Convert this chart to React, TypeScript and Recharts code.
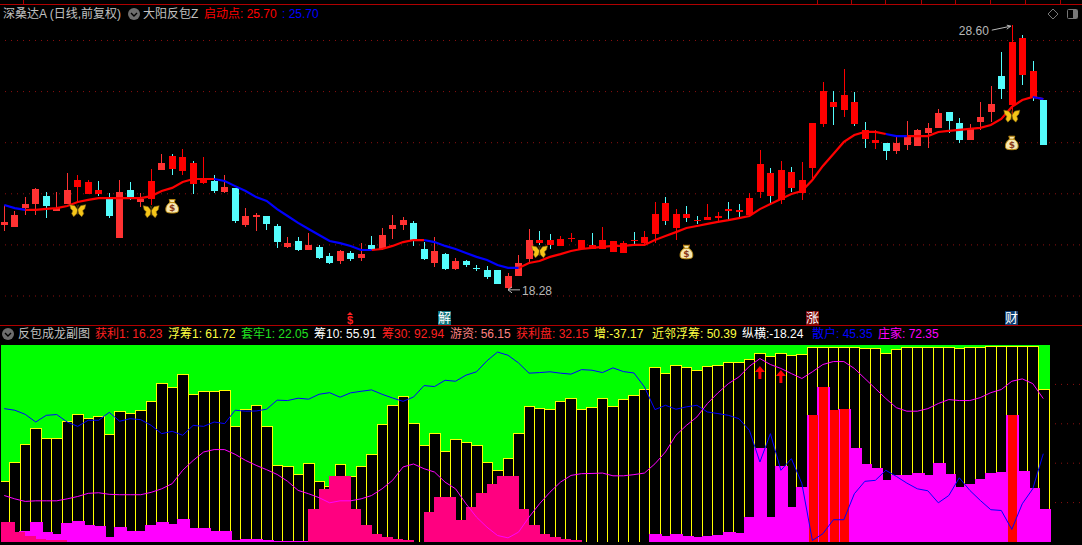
import { ComposedChart, Bar, Line, XAxis, YAxis, CartesianGrid, ReferenceDot } from "recharts";

// daily candles
const opens = [20.78,20.70,21.44,21.60,21.91,21.33,21.60,22.27,21.99,21.99,21.83,20.27,22.15,21.68,21.80,22.93,22.97,22.89,22.38,22.42,22.50,22.07,22.23,20.78,21.09,21.13,20.74,19.92,20.15,19.80,19.92,19.57,19.37,19.68,19.49,20.00,19.84,20.62,20.78,20.86,19.84,19.29,19.64,19.06,19.37,19.11,19.02,19.02,18.31,18.78,19.45,20.07,20.00,19.96,20.24,19.84,19.84,19.84,19.72,19.68,20.15,20.07,20.43,20.94,20.66,21.05,20.94,20.97,21.05,21.33,21.29,21.17,22.07,21.91,21.76,22.23,22.03,23.01,24.73,25.40,25.28,24.73,24.14,23.99,23.99,23.68,23.91,23.87,24.38,24.58,25.20,24.77,24.11,24.81,25.20,26.61,25.48,26.65,25.79,25.67];
const closes = [20.90,21.17,21.60,22.19,21.52,21.44,22.15,22.54,22.46,22.15,21.13,22.07,21.87,21.80,22.50,23.20,23.48,23.44,23.20,22.54,22.11,22.27,20.94,21.13,21.17,20.82,20.11,20.07,19.80,20.00,19.49,19.29,19.76,19.45,19.64,19.80,20.39,20.78,20.97,20.19,19.45,19.76,19.06,19.37,19.21,19.08,18.74,18.47,18.78,19.29,20.19,20.19,20.19,20.23,20.28,20.19,20.00,20.19,20.15,20.07,20.19,20.31,21.21,21.64,21.21,21.21,20.97,21.09,21.13,21.40,21.37,21.83,23.17,22.81,22.93,22.85,22.54,24.77,26.03,25.59,25.87,25.59,24.50,24.11,23.68,23.99,24.22,24.50,24.58,25.16,24.85,24.11,24.58,25.01,25.51,26.10,27.94,28.10,26.80,23.91];
const highs = [21.56,21.33,21.87,22.21,22.07,22.07,22.81,22.74,22.54,22.50,22.03,22.54,22.46,22.03,22.97,23.56,23.56,23.75,23.28,23.44,22.74,22.74,22.23,21.44,21.25,21.13,20.82,20.31,20.31,20.47,20.00,19.68,19.80,19.76,20.07,20.35,20.66,21.17,21.09,20.94,20.11,20.31,19.68,19.49,19.41,19.21,19.17,19.02,18.90,19.60,20.62,20.54,20.43,20.35,20.47,20.19,20.47,20.70,20.15,20.15,20.50,20.54,21.68,21.87,21.40,21.52,21.13,21.60,21.29,21.68,21.60,22.03,23.71,23.01,23.28,23.05,23.24,24.77,26.38,26.03,26.88,25.98,24.81,24.50,23.99,24.22,24.85,24.54,24.77,25.32,25.20,24.97,24.73,25.59,26.22,27.55,28.60,28.21,27.20,25.67];
const lows = [20.54,20.70,21.17,21.17,21.05,21.33,21.60,21.72,21.99,21.91,21.05,20.27,21.76,21.48,21.56,22.93,22.74,22.74,21.99,22.38,22.03,22.03,20.86,20.70,20.54,20.58,19.88,19.88,19.76,19.80,19.45,19.25,19.25,19.37,19.37,19.80,19.80,20.23,20.58,19.96,19.41,19.13,19.02,19.02,19.13,18.98,18.67,18.47,18.28,18.78,19.25,20.00,19.84,19.96,20.11,19.84,19.84,19.84,19.72,19.68,20.00,20.00,20.07,20.78,20.19,20.90,20.82,20.97,20.90,20.97,21.09,21.09,21.83,21.56,21.60,22.07,21.76,22.62,24.61,24.69,25.00,24.65,23.79,23.75,23.32,23.56,23.71,23.87,23.79,24.58,24.38,23.99,24.11,24.50,24.81,25.71,25.08,26.26,25.63,23.91];
const movingAvg = [21.56,21.44,21.37,21.37,21.41,21.44,21.52,21.68,21.76,21.83,21.83,21.83,21.83,21.83,21.91,22.11,22.23,22.46,22.58,22.58,22.58,22.50,22.30,22.11,21.87,21.72,21.40,21.13,20.86,20.62,20.39,20.15,20.07,19.96,19.80,19.80,19.84,19.96,20.11,20.19,20.19,20.11,19.96,19.84,19.68,19.53,19.41,19.21,19.10,19.10,19.29,19.37,19.53,19.64,19.76,19.84,19.88,19.92,19.96,19.96,20.00,20.00,20.19,20.35,20.50,20.66,20.74,20.82,20.90,20.97,21.05,21.13,21.40,21.60,21.80,21.99,22.11,22.54,23.09,23.56,24.03,24.30,24.42,24.42,24.34,24.26,24.26,24.26,24.26,24.42,24.46,24.50,24.54,24.58,24.69,24.93,25.40,25.67,25.79,25.71];
const fallingRuns = [[0,2],[20,35],[40,49],[84,86],[98,99]];
const cyanWickDays = [9,16,18,51,52,56,60,63,65,66,69,70,73,75,79,81,82,97,98];
const softRedDays = [0,1,2,3,5,6,11,13,15,21,23,24,27,29,32,34,36,37,38,41,43,48,49,50,85,86,87,88,89,92,93,94];
const butterflies = [[7,21.34],[14,21.30],[51,19.73],[96,25.04]];
const moneyBags = [[16,21.50],[65,19.71],[96,23.98]];

// lower panel, 0-100
const chipBars = [31.1,40.6,49.7,58.1,53,53,61.6,65,63.1,64,55,66.7,65.7,67.2,71.8,80.9,78.9,85.5,75.3,76.9,76.4,77.4,59.1,67.7,69.7,59.1,39.2,38.7,34.7,40.3,31.1,28.6,39.7,33.3,38.7,44.8,59.9,69.7,74.2,60.6,49.4,55.5,46.4,52.5,50.9,49.4,40.8,36.7,42.8,55.5,69.1,68.2,67.7,71.8,73.3,67.7,68.7,73.3,69.2,72.8,74.8,77.9,88.6,86,89.6,88.6,87.5,89.1,89.6,91.6,91.6,93.1,95.7,94.2,95.7,94.7,95.2,99.2,99.2,99.2,99.2,99.2,98.7,98.7,95.7,98.2,99.2,99.2,99.2,99.2,99.2,98.7,99.2,99.2,99.7,99.7,99.7,99.7,99.7,77.9];
const profitBars = [0,0,5.8,10.4,5.3,4.3,9.4,10.9,8.4,7.9,2.3,7.4,5.8,5.8,8.4,10.4,8.9,11.9,6.9,6.9,5.8,5.8,0.8,1.3,1.3,0.8,0.3,0.3,0.3,0.3,0,0,0,0,0,0,0,0,0,0,0,0,0,0,0,0,0,0,0,0,0,0,0,0,0,0,0,0,0,0,0,0,4.3,2.8,4.3,2.8,2.3,2.8,3.3,5.3,4.8,12.5,47.5,12.5,38.4,18,27.7,64.3,78.6,66.9,67.4,47.5,39.4,37.4,31.3,33.8,33.8,34.8,33.8,39.9,34.3,27.7,29.2,31.8,34.8,35.3,64.3,35.8,27.2,16.5];
const lockedBars = [10.4,10.4,5.3,2.8,1.3,0.8,0.8,0.25,0.25,0.25,0.25,0.25,0.25,0.25,0.25,0.25,0.25,0.25,0.25,0.25,0.25,0.25,0.25,0.25,0.25,0.25,0.25,0.25,0.25,0.25,17,26.7,33.3,33.3,16.5,8.4,4.3,2.3,1.3,0.8,0.25,15,22.6,22.6,11.4,18,24.7,29.2,33.3,33.3,16.5,8.4,4.3,2.3,1.3,0.8,0.25,0.25,0.25,0.25,0.25,0.25,0.25,0.25,0.25,0.25,0.25,0.25,0.25,0.25,0.25,0.25,0.25,0.25,0.25,0.25,0.25,0.25,0.25,0.25,0.25,0.25,0.25,0.25,0.25,0.25,0.25,0.25,0.25,0.25,0.25,0.25,0.25,0.25,0.25,0.25,0.25,0.25,0.25,0.25,0.25];
const hotBars: Record<number, number> = { 77: 64.3, 78: 78.6, 79: 66.9, 80: 67.4, 96: 64.3 };
const retailLine = [67.7,66.9,64.8,60.9,64.3,64.7,60.9,58.7,61.8,61.8,65.8,61.3,62.6,62.1,59.2,55,56.2,54.2,59.2,58.7,60.9,60.1,66.9,66.4,66.5,67.4,72,71.8,73,72.5,75,75.8,73.5,75.7,76.5,77.2,75,73.1,71.4,73.6,79.4,78.9,82.1,81.6,84.7,86.4,92,96.4,94.8,90.9,85.7,86,86.4,85.7,85.2,87.5,87.2,86,88.4,86.5,85.8,78.7,67.2,69.4,67.4,68.6,69.4,66,65.2,64.3,62.6,56.7,40.6,55,36.4,42.3,29.6,0.8,4.2,11.3,11.3,24.5,30.8,31.3,36.4,33.3,29.9,27,26,19.9,23.6,32.6,26.2,21.1,16.4,16,6.4,19.4,27,44.8];
const dealerLine = [23.6,21.9,20.6,20.9,20.9,20.9,21.9,23.1,24.7,25,24.2,24,24,24,25.2,27,29.6,36.4,41.4,45.7,46.9,46.9,44.5,41.4,38.9,36.7,34.3,30.8,26.2,24.5,22.5,19.9,20.9,20.9,21.9,23.6,27,31.3,38.1,39.6,37.2,35.5,30.4,27,19.4,12.6,7.5,3.3,2.1,5,12.6,19.4,25.3,30.4,33.8,34.7,34.8,35,33.6,33.6,34.2,35,39.7,45.7,54.2,59.2,63.5,70.3,75.7,80.4,83.8,89.2,93.1,90.1,88.1,85.5,83,86.4,90.1,91.6,91.6,88.1,83,77.9,72.8,68.2,66.4,66.4,67.7,70.3,72.3,71.8,71.8,73.3,75.8,77.4,81.6,82.8,80.4,72.8];
const signalArrows = [[72,85.8],[74,83.8]];

const subNames = ["获利1:","浮筹1:","套牢1:","筹10:","筹30:","游资:","获利盘:","增:","近邻浮筹:","纵横:","散户:","庄家:"];
const subValues = ["16.23","61.72","22.05","55.91","92.94","56.15","32.15","-37.17","50.39","-18.24","45.35","72.35"];
const subColors = ["#ff2020","#ffff40","#20e020","#ffffff","#ff2020","#ff8080","#ff2020","#ffff40","#ffff40","#ffffff","#0000ff","#ff00ff"];
const subLefts = [95,168,241,314,382,450,516,594,652,742,812,878];

const SLOTS = 103;
const inFalling = (i: number) => fallingRuns.some(([a, b]) => i >= a && i <= b);
const isRising = (i: number) => i > 0 && fallingRuns.every(([a, b]) => i <= a || i >= b);

const priceRows = Array.from({ length: SLOTS }, (_, i) =>
  i < opens.length
    ? {
        slot: i,
        open: opens[i],
        close: closes[i],
        high: highs[i],
        low: lows[i],
        range: [lows[i], highs[i]],
        maUp: isRising(i) ? movingAvg[i] : null,
        maDown: inFalling(i) ? movingAvg[i] : null,
      }
    : { slot: i }
);

const chipRows = Array.from({ length: SLOTS }, (_, i) => ({
  slot: i,
  floor: i < chipBars.length ? 100 : null,
  chip: i < chipBars.length ? chipBars[i] : null,
  profit: i < profitBars.length ? profitBars[i] : null,
  locked: i < lockedBars.length ? lockedBars[i] : null,
  hot: hotBars[i] ?? null,
  retail: i < retailLine.length ? retailLine[i] : null,
  dealer: i < dealerLine.length ? dealerLine[i] : null,
}));

function Candle(props: any) {
  const { x, y, width, height, payload, index } = props;
  if (payload.high === undefined) return null;
  const perUnit = Math.abs(height) / (payload.high - payload.low || 1);
  const yOf = (price: number) => Math.min(y, y + height) + (payload.high - price) * perUnit;
  const falling = payload.close < payload.open;
  const cx = Math.round(x + width / 2);
  const bodyTop = Math.round(yOf(Math.max(payload.open, payload.close)));
  const bodyBottom = Math.round(yOf(Math.min(payload.open, payload.close)));
  const wickColor = falling || cyanWickDays.includes(index) ? "#54fcfc" : softRedDays.includes(index) ? "#ff3232" : "#ff0000";
  const bodyColor = falling ? "#54fcfc" : softRedDays.includes(index) ? "#ff3232" : "#ff0000";
  return (
    <g shapeRendering="crispEdges">
      <rect x={cx} y={Math.round(yOf(payload.high))} width={1} height={Math.round(yOf(payload.low)) - Math.round(yOf(payload.high))} fill={wickColor} />
      <rect x={cx - 3} y={bodyTop} width={7} height={Math.max(bodyBottom - bodyTop, 1)} fill={bodyColor} />
    </g>
  );
}

// plain filled stick; width can exceed the slot so neighbours overlap like in the software
const stick = (w: number, fill: string, dx = 0) => (props: any) => {
  if (!props.height) return null;
  const left = Math.round(props.x + props.width / 2 + dx - w / 2);
  const top = Math.round(props.y);
  const bottom = Math.round(props.y + props.height);
  return <rect x={left} y={top} width={w} height={Math.max(bottom - top, 1)} fill={fill} shapeRendering="crispEdges" />;
};

function ChipStick(props: any) {
  if (!props.height) return null;
  const cx = props.x + props.width / 2;
  const left = Math.round(cx - 5.25) + 0.5;
  // last stick is a little wider in the original
  const right = Math.round(cx + 10.495 - 5.25) + 0.5 + (props.index === 99 ? 1 : 0);
  const top = Math.round(props.y) + 0.5;
  const bottom = Math.round(props.y + props.height);
  return <path d={`M${left},${bottom}V${top}H${right}V${bottom}`} fill="#000" stroke="#ffff00" strokeWidth={1} shapeRendering="crispEdges" />;
}

function Butterfly({ cx, cy }: any) {
  return (
    <g transform={`translate(${cx},${cy})`}>
      <path d="M0,-1 L-3,-5 L-8,-6 L-7,-2 L-5,0 L-6,3 L-4,6 L-1,3 Z" fill="#f5c518" stroke="#8a6a10" strokeWidth={0.6} />
      <path d="M0,-1 L3,-5 L8,-6 L7,-2 L5,0 L6,3 L4,6 L1,3 Z" fill="#f5c518" stroke="#8a6a10" strokeWidth={0.6} />
      <path d="M0,-3 V4 M-1,-6 L0,-3 M1,-6 L0,-3" stroke="#5a4408" strokeWidth={0.8} fill="none" />
    </g>
  );
}

function MoneyBag({ cx, cy }: any) {
  return (
    <g transform={`translate(${cx},${cy})`}>
      <path d="M-3,-7 L3,-7 L2,-4 C6,-2 7,2 6,5 C5,7 -5,7 -6,5 C-7,2 -6,-2 -2,-4 Z" fill="#f7e7b0" stroke="#b8860b" strokeWidth={1} />
      <path d="M-3,-4 H3" stroke="#b8860b" strokeWidth={1} />
      <text x={0} y={4.5} textAnchor="middle" fontSize={9} fontWeight="bold" fontFamily="DejaVu Sans" fill="#8b3a1a">$</text>
    </g>
  );
}

function UpArrow({ cx, cy }: any) {
  return <path transform={`translate(${cx},${cy})`} d="M0,-7 L5,-1 L1.5,-1 L1.5,6 L-1.5,6 L-1.5,-1 L-5,-1 Z" fill="#ff0000" />;
}

function HighNote({ cx, cy }: any) {
  return (
    <g>
      <text x={cx - 53} y={cy + 10} fontSize={12} fontFamily="Liberation Sans" fill="#b8b8b8">28.60</text>
      <path d={`M${cx - 20},${cy + 5} L${cx - 1},${cy + 1} M${cx - 5},${cy} L${cx - 1},${cy + 1} L${cx - 5},${cy + 4}`} stroke="#b8b8b8" fill="none" />
    </g>
  );
}

function LowNote({ cx, cy }: any) {
  return (
    <g>
      <path d={`M${cx},${cy + 1} H${cx + 12} M${cx + 4},${cy - 2} L${cx},${cy + 1} L${cx + 4},${cy + 4}`} stroke="#b8b8b8" fill="none" />
      <text x={cx + 14} y={cy + 6} fontSize={12} fontFamily="Liberation Sans" fill="#b8b8b8">18.28</text>
    </g>
  );
}

function Caret({ left, top }: { left: number; top: number }) {
  return (
    <svg style={{ position: "absolute", left, top }} width={12} height={12}>
      <circle cx={6} cy={6} r={6} fill="#6e6e6e" />
      <path d="M3,5 L6,8 L9,5" stroke="#000" strokeWidth={1.4} fill="none" />
    </svg>
  );
}

function Label({ left, top, color, children, bg, size = 12, bold }: any) {
  return (
    <span
      style={{
        position: "absolute",
        left,
        top,
        color,
        background: bg,
        fontSize: size,
        fontWeight: bold ? 700 : 400,
        lineHeight: "14px",
        whiteSpace: "pre",
        fontFamily: "'Liberation Sans','Noto Sans CJK SC',sans-serif",
      }}
    >
      {children}
    </span>
  );
}

export default function App() {
  const layers = ["floor", "chip", "profit", "locked", "hot"];
  return (
    <div style={{ position: "absolute", left: 0, top: 0, width: 1082, height: 545, background: "#000", overflow: "hidden" }}>
      <div style={{ position: "absolute", left: -1, top: 0 }}>
        <ComposedChart width={1081} height={325} data={priceRows} margin={{ top: 0, right: 0, bottom: 0, left: 0 }}>
          <CartesianGrid vertical={false} horizontalValues={[18, 20, 22, 24, 26, 28]} stroke="#8c1010" strokeDasharray="1 5" />
          <XAxis dataKey="slot" hide />
          <YAxis hide domain={[16.865, 29.585]} ticks={[18, 20, 22, 24, 26, 28]} allowDataOverflow />
          <Bar dataKey="range" barSize={8} shape={Candle} isAnimationActive={false} />
          <Line dataKey="maUp" stroke="#ff0000" strokeWidth={2.2} dot={false} activeDot={false} type="linear" isAnimationActive={false} />
          <Line dataKey="maDown" stroke="#0000ff" strokeWidth={2.2} dot={false} activeDot={false} type="linear" isAnimationActive={false} />
          {butterflies.map(([i, p]) => (
            <ReferenceDot key={`b${i}`} x={i} y={p} r={0} shape={Butterfly} />
          ))}
          {moneyBags.map(([i, p]) => (
            <ReferenceDot key={`m${i}`} x={i} y={p} r={0} shape={MoneyBag} />
          ))}
          <ReferenceDot x={96} y={28.6} r={0} shape={HighNote} />
          <ReferenceDot x={48} y={18.28} r={0} shape={LowNote} />
        </ComposedChart>
      </div>

      <div style={{ position: "absolute", left: -1, top: 345 }}>
        <ComposedChart width={1081} height={197} data={chipRows} margin={{ top: 0, right: 0, bottom: 0, left: 0 }}>
          <CartesianGrid vertical={false} horizontalValues={[20, 40, 60, 80]} stroke="#8c1010" strokeDasharray="1 5" />
          {layers.map((id) => (
            <XAxis key={id} xAxisId={id} dataKey="slot" hide />
          ))}
          <YAxis hide domain={[0, 100]} allowDataOverflow />
          <Bar xAxisId="floor" dataKey="floor" barSize={8} shape={stick(12, "#00ff00", 1)} isAnimationActive={false} />
          <Bar xAxisId="chip" dataKey="chip" barSize={8} shape={ChipStick} isAnimationActive={false} />
          <Bar xAxisId="profit" dataKey="profit" barSize={8} shape={stick(13, "#ff00ff", 1)} isAnimationActive={false} />
          <Bar xAxisId="locked" dataKey="locked" barSize={8} shape={stick(11, "#ff0080", -5)} isAnimationActive={false} />
          <Bar xAxisId="hot" dataKey="hot" barSize={8} shape={stick(9, "#ff0000", 1)} isAnimationActive={false} />
          <Line xAxisId="chip" dataKey="retail" stroke="#0000ff" strokeWidth={1} dot={false} activeDot={false} type="linear" isAnimationActive={false} />
          <Line xAxisId="chip" dataKey="dealer" stroke="#ff00ff" strokeWidth={1} dot={false} activeDot={false} type="linear" isAnimationActive={false} />
          {signalArrows.map(([i, v]) => (
            <ReferenceDot key={`a${i}`} xAxisId="chip" x={i} y={v} r={0} shape={UpArrow} />
          ))}
        </ComposedChart>
      </div>
      <div style={{ position: "absolute", left: 0, top: 345, width: 1, height: 197, background: "#000" }} />

      {/* frame lines */}
      <div style={{ position: "absolute", left: 0, top: 4, width: 1082, height: 1, background: "#b00000" }} />
      <div style={{ position: "absolute", left: 0, top: 325, width: 1082, height: 1, background: "#b00000" }} />
      {[23, 817, 851, 885, 921, 955, 990, 1025, 1060].map((x) => (
        <div key={x} style={{ position: "absolute", left: x, top: 0, width: 1, height: 4, background: "#b00000" }} />
      ))}

      {/* main header */}
      <Label left={3} top={7} color="#c0c0c0">深桑达A (日线,前复权)</Label>
      <Caret left={128} top={8} />
      <Label left={143} top={7} color="#c0c0c0">大阳反包Z</Label>
      <Label left={204} top={7} color="#ff0000">启动点: 25.70</Label>
      <Label left={282} top={7} color="#0000ff">: 25.70</Label>
      <svg style={{ position: "absolute", left: 1047, top: 8 }} width={32} height={13}>
        <path d="M6,1 L11,6 L6,11 L1,6 Z" fill="none" stroke="#777" />
        <rect x={20.5} y={1.5} width={10} height={9} rx={1} fill="none" stroke="#777" />
        <rect x={26} y={2} width={4} height={8} fill="#777" />
      </svg>

      {/* signal tags above the sub chart */}
      <svg style={{ position: "absolute", left: 346, top: 312 }} width={8} height={4}>
        <path d="M4,0 L7,3 L1,3 Z" fill="#ff2020" />
      </svg>
      <Label left={347} top={313} color="#ff2020" size={11} bold>$</Label>
      <Label left={438} top={311} color="#ffffff" bg="#0a7078" size={13}>解</Label>
      <Label left={806} top={311} color="#ffffff" bg="#7a0808" size={13}>涨</Label>
      <Label left={1005} top={311} color="#ffffff" bg="#0c3c70" size={13}>财</Label>

      {/* sub chart header */}
      <Caret left={2} top={328} />
      <Label left={18} top={327} color="#c0c0c0">反包成龙副图</Label>
      {subNames.map((name, i) => (
        <Label key={name} left={subLefts[i]} top={327} color={subColors[i]}>
          {name}
          {subValues[i].startsWith("-") ? "" : " "}
          {subValues[i]}
        </Label>
      ))}
    </div>
  );
}
